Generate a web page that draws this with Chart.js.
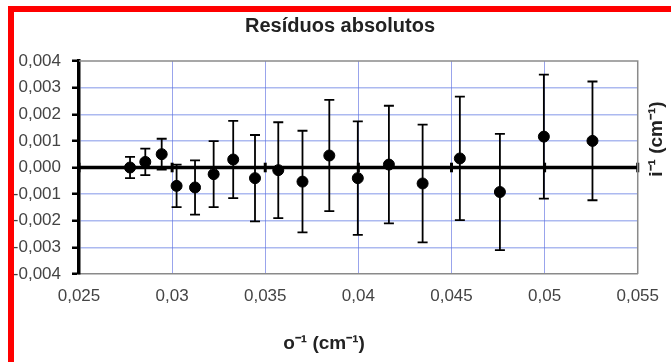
<!DOCTYPE html>
<html>
<head>
<meta charset="utf-8">
<script src="https://cdn.jsdelivr.net/npm/chart.js@4"></script>
<style>
  html, body { margin: 0; padding: 0; background: #fff; overflow: hidden; }
  #caixa { position: relative; width: 671px; height: 362px; }
  #grafico { display: block; }
  #moldura {
    position: absolute; left: 8px; top: 6px; right: 0; bottom: 0;
    border-top: 6px solid #f00; border-left: 6px solid #f00;
    pointer-events: none;
  }
</style>
</head>
<body>
<div id="caixa">
  <canvas id="grafico" width="671" height="362"></canvas>
  <div id="moldura"></div>
</div>
<script>
// dados
const inversoO = [0.02774, 0.02856, 0.02944, 0.03024, 0.03123, 0.03223, 0.03328, 0.03445, 0.0357,
  0.0370, 0.03844, 0.03997, 0.04164, 0.04345, 0.04545, 0.0476, 0.04996, 0.05257];
const residuos = [0.0000, 0.00021, 0.0005, -0.00069, -0.00075, -0.00025, 0.0003, -0.0004, -0.0001,
  -0.00053, 0.00045, -0.0004, 0.00011, -0.0006, 0.00034, -0.00092, 0.00116, 0.001];
const erros = [0.0004, 0.0005, 0.00058, 0.0008, 0.00102, 0.00124, 0.00145, 0.00162, 0.0018,
  0.00191, 0.00209, 0.00213, 0.00221, 0.00221, 0.00232, 0.00218, 0.00233, 0.00223];
const linhaZeroX = [0.025, 0.03, 0.035, 0.04, 0.045, 0.05, 0.055];
const linhaZeroErros = [0.00018, 0.00018, 0.00018, 0.00018, 0.00018, 0.00018, 0.00018];

const fonte = '"Liberation Sans", Arial, sans-serif';
const virgula = v => Number(v.toFixed(3)).toString().replace('.', ',');

const barrasErro = {
  id: 'barrasErro',
  beforeDatasetsDraw(chart) {
    const { ctx, scales: { x, y } } = chart;
    ctx.save();
    ctx.strokeStyle = '#000';
    chart.data.datasets.forEach(ds => {
      ctx.lineWidth = ds.larguraErro;
      ds.data.forEach((p, j) => {
        const px = x.getPixelForValue(p.x);
        const cima = y.getPixelForValue(p.y + ds.erros[j]);
        const baixo = y.getPixelForValue(p.y - ds.erros[j]);
        ctx.beginPath();
        ctx.moveTo(px, cima);
        ctx.lineTo(px, baixo);
        if (ds.capa > 0) {
          ctx.moveTo(px - ds.capa, cima);
          ctx.lineTo(px + ds.capa, cima);
          ctx.moveTo(px - ds.capa, baixo);
          ctx.lineTo(px + ds.capa, baixo);
        }
        ctx.stroke();
      });
    });
    ctx.restore();
  },
  afterDraw(chart) {
    const { ctx, chartArea: a } = chart;
    ctx.save();
    // contorno cinza em cima e à direita
    ctx.strokeStyle = '#8a8a8a';
    ctx.lineWidth = 1.5;
    ctx.beginPath();
    ctx.moveTo(a.left, a.top);
    ctx.lineTo(a.right, a.top);
    ctx.lineTo(a.right, a.bottom);
    ctx.stroke();
    // títulos
    ctx.fillStyle = '#222';
    ctx.textAlign = 'center';
    ctx.textBaseline = 'middle';
    ctx.font = 'bold 20px ' + fonte;
    ctx.fillText('Resíduos absolutos', 340, 26);
    ctx.font = 'bold 19px ' + fonte;
    ctx.fillText('o⁻¹ (cm⁻¹)', 324, 344);
    ctx.translate(657, 139);
    ctx.rotate(-Math.PI / 2);
    ctx.fillText('i⁻¹ (cm⁻¹)', 0, 0);
    ctx.restore();
  }
};

new Chart(document.getElementById('grafico'), {
  type: 'scatter',
  data: {
    datasets: [{
      data: inversoO.map((v, i) => ({ x: v, y: residuos[i] })),
      erros: erros,
      larguraErro: 1.8,
      capa: 5,
      backgroundColor: '#000',
      borderColor: '#000',
      pointRadius: 5.5,
      pointHoverRadius: 5.5
    }, {
      data: linhaZeroX.map(v => ({ x: v, y: 0 })),
      erros: linhaZeroErros,
      larguraErro: 3,
      capa: 0,
      showLine: true,
      borderColor: '#000',
      borderWidth: 3.5,
      pointRadius: 0
    }]
  },
  options: {
    responsive: false,
    animation: false,
    layout: { padding: { top: 61, right: 33, bottom: 0, left: 0 } },
    plugins: {
      legend: { display: false },
      tooltip: { enabled: false }
    },
    scales: {
      x: {
        type: 'linear',
        min: 0.025,
        max: 0.055,
        afterFit: s => { s.height = 88; },
        ticks: {
          stepSize: 0.005,
          maxRotation: 0,
          padding: 12,
          color: '#444',
          font: { family: fonte, size: 17 },
          callback: virgula
        },
        grid: {
          drawTicks: false,
          lineWidth: 1,
          color: c => (c.tick && (c.tick.value <= 0.0251 || c.tick.value >= 0.0549)) ? 'rgba(0,0,0,0)' : 'rgba(70,90,220,0.55)'
        },
        border: { color: '#8a8a8a', width: 1.5 }
      },
      y: {
        min: -0.004,
        max: 0.004,
        afterFit: s => { s.width = 79; },
        ticks: {
          stepSize: 0.001,
          padding: 11,
          color: '#444',
          font: { family: fonte, size: 17 },
          callback: v => v.toFixed(3).replace('.', ',').replace('-0,000', '0,000')
        },
        grid: {
          lineWidth: 1.5,
          tickLength: 7,
          tickWidth: 2.5,
          tickColor: '#000',
          color: c => (c.tick && Math.abs(c.tick.value) > 0.0039) ? 'rgba(0,0,0,0)' : 'rgba(90,115,225,0.5)'
        },
        border: { color: '#000', width: 3.5 }
      }
    }
  },
  plugins: [barrasErro]
});
</script>
</body>
</html>
